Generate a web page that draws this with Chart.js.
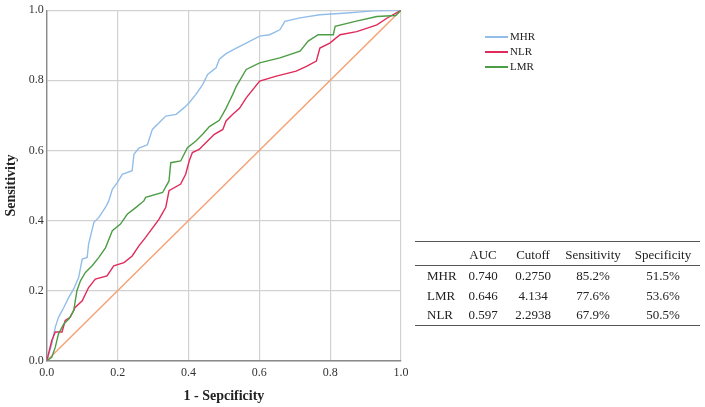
<!DOCTYPE html>
<html>
<head>
<meta charset="utf-8">
<script src="https://cdn.jsdelivr.net/npm/chart.js@4.4.0/dist/chart.umd.min.js"></script>
<style>
  body { margin: 0; background: #fff; }
  #wrap { position: relative; width: 705px; height: 407px; font-family: "Liberation Serif", serif; }
  #legend { position: absolute; left: 485px; top: 29px; font-size: 11px; color: #222; }
  #legend div { height: 15px; line-height: 15px; white-space: nowrap; }
  #legend span.sw { display: inline-block; width: 23px; height: 2px; vertical-align: middle; margin-right: 2px; }
  #stats { position: absolute; left: 415px; top: 241px; width: 285px; border-collapse: collapse; font-size: 13px; color: #222; table-layout: fixed; }
  #stats thead tr { border-top: 1px solid #555; border-bottom: 1px solid #555; }
  #stats tbody tr:last-child { border-bottom: 1px solid #555; }
  #stats td, #stats th { font-weight: normal; padding: 0; height: 19.7px; text-align: center; }
  #stats th { height: 21px; padding-top: 2px; }
  #stats td:first-child { text-align: left; padding-left: 12px; }
</style>
</head>
<body>
<div id="wrap">
  <canvas id="roc" width="705" height="407"></canvas>
  <div id="legend"></div>
  <table id="stats">
    <colgroup><col style="width:45px"><col style="width:46px"><col style="width:54px"><col style="width:66px"><col style="width:74px"></colgroup>
    <thead></thead><tbody></tbody>
  </table>
</div>
<script>
// ROC points (1 - specificity, sensitivity)
const mhrFpr = [0, 0.014, 0.024, 0.033, 0.048, 0.062, 0.076, 0.090, 0.100, 0.114, 0.118, 0.133, 0.147, 0.166, 0.175, 0.185, 0.199, 0.213, 0.241, 0.246, 0.260, 0.284, 0.298, 0.317, 0.336, 0.365, 0.388, 0.402, 0.421, 0.440, 0.454, 0.478, 0.487, 0.506, 0.535, 0.563, 0.601, 0.629, 0.658, 0.672, 0.715, 0.771, 0.847, 0.922, 1];
const mhrTpr = [0, 0.048, 0.096, 0.124, 0.152, 0.181, 0.205, 0.238, 0.290, 0.295, 0.333, 0.395, 0.409, 0.438, 0.456, 0.489, 0.508, 0.532, 0.542, 0.589, 0.607, 0.616, 0.660, 0.679, 0.698, 0.703, 0.722, 0.736, 0.760, 0.788, 0.817, 0.836, 0.860, 0.876, 0.892, 0.906, 0.926, 0.930, 0.944, 0.968, 0.978, 0.987, 0.992, 0.998, 1];

const lmrFpr = [0, 0.014, 0.024, 0.033, 0.048, 0.062, 0.076, 0.085, 0.095, 0.109, 0.128, 0.147, 0.166, 0.185, 0.208, 0.227, 0.251, 0.274, 0.279, 0.327, 0.345, 0.350, 0.378, 0.397, 0.421, 0.440, 0.459, 0.487, 0.506, 0.516, 0.525, 0.535, 0.563, 0.601, 0.658, 0.715, 0.738, 0.766, 0.809, 0.814, 0.871, 0.932, 0.985, 1];
const lmrTpr = [0, 0.010, 0.039, 0.077, 0.105, 0.119, 0.143, 0.200, 0.228, 0.252, 0.271, 0.295, 0.323, 0.371, 0.390, 0.418, 0.437, 0.456, 0.466, 0.480, 0.513, 0.565, 0.570, 0.608, 0.627, 0.646, 0.668, 0.686, 0.720, 0.741, 0.760, 0.783, 0.831, 0.850, 0.864, 0.883, 0.912, 0.930, 0.930, 0.954, 0.968, 0.982, 0.985, 1];

const nlrFpr = [0, 0.014, 0.024, 0.043, 0.052, 0.066, 0.080, 0.100, 0.118, 0.137, 0.170, 0.189, 0.218, 0.241, 0.260, 0.279, 0.303, 0.317, 0.336, 0.345, 0.378, 0.392, 0.402, 0.411, 0.430, 0.454, 0.473, 0.497, 0.506, 0.525, 0.544, 0.563, 0.601, 0.648, 0.704, 0.733, 0.761, 0.771, 0.799, 0.828, 0.875, 0.932, 0.960, 1];
const nlrTpr = [0, 0.058, 0.082, 0.082, 0.115, 0.124, 0.152, 0.171, 0.209, 0.233, 0.242, 0.271, 0.280, 0.299, 0.328, 0.352, 0.385, 0.404, 0.438, 0.485, 0.504, 0.532, 0.570, 0.594, 0.603, 0.627, 0.646, 0.660, 0.684, 0.703, 0.720, 0.750, 0.798, 0.812, 0.826, 0.840, 0.855, 0.892, 0.906, 0.930, 0.939, 0.958, 0.977, 1];

const refFpr = [0, 1];
const refTpr = [0, 1];

const axisTicks = [0, 0.2, 0.4, 0.6, 0.8, 1.0];

// summary table
const tableHead = ["", "AUC", "Cutoff", "Sensitivity", "Specificity"];
const tableRows = ["MHR", "LMR", "NLR"];
const aucValues = ["0.740", "0.646", "0.597"];
const cutoffValues = ["0.2750", "4.134", "2.2938"];
const sensValues = ["85.2%", "77.6%", "67.9%"];
const specValues = ["51.5%", "53.6%", "50.5%"];

const toPoints = (xs, ys) => xs.map((x, i) => ({ x: x, y: ys[i] }));

const series = [
    { label: "MHR", data: toPoints(mhrFpr, mhrTpr), color: "#93bde9" },
    { label: "NLR", data: toPoints(nlrFpr, nlrTpr), color: "#df2a5b" },
    { label: "LMR", data: toPoints(lmrFpr, lmrTpr), color: "#4c9d45" }
];

const datasets = [{
    label: "ref",
    data: toPoints(refFpr, refTpr),
    borderColor: "#f4a276",
    borderWidth: 1.4,
    pointRadius: 0,
    order: 4
}].concat(series.map((s, i) => ({
    label: s.label,
    data: s.data,
    borderColor: s.color,
    borderWidth: 1.4,
    pointRadius: 0,
    order: 3 - i
})));

const tickFont = { family: "Liberation Serif", size: 12 };
const titleFont = { family: "Liberation Serif", size: 14, weight: "bold" };

const gridOpts = { color: "#d2d2d2", lineWidth: 1.2, drawTicks: false };
const borderOpts = { color: "#8a8a8a", width: 1.4 };

new Chart(document.getElementById("roc"), {
    type: "line",
    data: { datasets: datasets },
    options: {
        responsive: false,
        animation: false,
        layout: { padding: { left: 1, top: 7, right: 304, bottom: 0 } },
        plugins: { legend: { display: false }, tooltip: { enabled: false } },
        scales: {
            x: {
                type: "linear", min: 0, max: 1,
                afterBuildTicks: axis => { axis.ticks = axisTicks.map(v => ({ value: v })); },
                ticks: { font: tickFont, color: "#333", padding: 5, callback: v => v.toFixed(1), maxRotation: 0 },
                grid: gridOpts, border: borderOpts,
                title: { display: true, text: "1 - Sepcificity", font: titleFont, color: "#222", padding: { top: 3, bottom: 2 } }
            },
            y: {
                type: "linear", min: 0, max: 1,
                afterBuildTicks: axis => { axis.ticks = axisTicks.map(v => ({ value: v })); },
                ticks: { font: tickFont, color: "#333", padding: 3, callback: v => v.toFixed(1) },
                grid: gridOpts, border: borderOpts,
                title: { display: true, text: "Sensitivity", font: titleFont, color: "#222", padding: { top: 2, bottom: 6 } }
            }
        }
    }
});

// legend
const legend = document.getElementById("legend");
series.forEach(s => {
    const row = document.createElement("div");
    row.innerHTML = `<span class="sw" style="background:${s.color}"></span>${s.label}`;
    legend.appendChild(row);
});

// table
const thead = document.querySelector("#stats thead");
thead.innerHTML = "<tr>" + tableHead.map(h => `<th>${h}</th>`).join("") + "</tr>";
const tbody = document.querySelector("#stats tbody");
tableRows.forEach((name, i) => {
    const row = document.createElement("tr");
    row.innerHTML = `
        <td>${name}</td>
        <td>${aucValues[i]}</td>
        <td>${cutoffValues[i]}</td>
        <td>${sensValues[i]}</td>
        <td>${specValues[i]}</td>
    `;
    tbody.appendChild(row);
});
</script>
</body>
</html>
